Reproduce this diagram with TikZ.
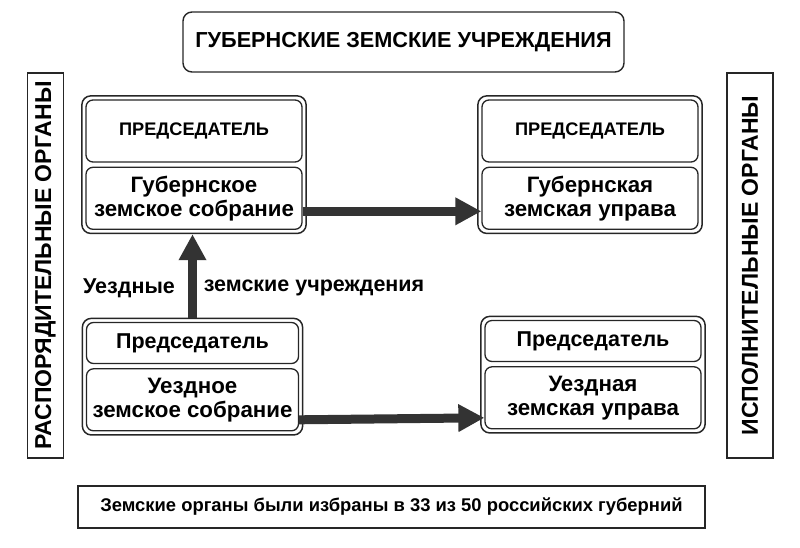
\documentclass[tikz,border=0pt]{standalone}
\usepackage{fontspec}
\setmainfont{Liberation Sans}
\usetikzlibrary{positioning,fit,arrows.meta}
\tikzstyle{inbox} = [draw=black!85, rounded corners=7pt, line width=1.3pt, minimum width=216pt, align=center, inner sep=0pt, font=\fontsize{22.3}{24}\bfseries\selectfont]
\tikzstyle{outbox} = [draw=black!85, rounded corners=9pt, line width=1.5pt, inner sep=3.5pt]
\tikzstyle{sidebox} = [draw=black!85, line width=1.4pt, rotate=90, minimum width=385pt, inner sep=0pt, font=\fontsize{23}{23}\bfseries\selectfont]
\tikzstyle{bigarrow} = [line width=9pt, draw=black!80, -{Triangle[length=26pt,width=26pt]}]
\tikzstyle{lbl} = [font=\fontsize{21.5}{21.5}\bfseries\selectfont]

\begin{document}
\begin{tikzpicture}[x=1pt, y=-1pt]
\useasboundingbox (0,0) rectangle (800,547);

% Define nodes
\node[draw=black!85, line width=1.4pt, rounded corners=9pt, minimum width=441pt, minimum height=60pt, font=\fontsize{21.7}{21.7}\bfseries\selectfont] (title) at (403.5,42) {ГУБЕРНСКИЕ ЗЕМСКИЕ УЧРЕЖДЕНИЯ};

\node[sidebox, minimum height=36pt] (rasp) at (45.5,265.5) {РАСПОРЯДИТЕЛЬНЫЕ ОРГАНЫ};
\node[sidebox, minimum height=46pt] (ispol) at (750,265.5) {ИСПОЛНИТЕЛЬНЫЕ ОРГАНЫ};

\node[inbox, minimum height=62pt, font=\fontsize{18.2}{18.2}\bfseries\selectfont] (gpred1) at (194,131) {ПРЕДСЕДАТЕЛЬ};
\node[inbox, minimum height=62pt, below=4pt of gpred1]  (gsob)  {Губернское\\земское собрание};
\node[outbox, fit=(gpred1)(gsob)]                          (gleft) {};

\node[inbox, minimum height=62pt, font=\fontsize{18.2}{18.2}\bfseries\selectfont] (gpred2) at (590,131) {ПРЕДСЕДАТЕЛЬ};
\node[inbox, minimum height=62pt, below=4pt of gpred2]  (gupr)  {Губернская\\земская управа};
\node[outbox, fit=(gpred2)(gupr)]                          (gright) {};

\node[inbox, minimum height=41pt, minimum width=212pt, font=\fontsize{21.5}{21.5}\bfseries\selectfont] (upred1) at (192.5,343) {Председатель};
\node[inbox, minimum height=62pt, minimum width=212pt, below=4pt of upred1] (usob) {Уездное\\земское собрание};
\node[outbox, fit=(upred1)(usob)]                          (uleft) {};

\node[inbox, minimum height=41pt, font=\fontsize{21.5}{21.5}\bfseries\selectfont] (upred2) at (593,341) {Председатель};
\node[inbox, minimum height=62pt, below=4pt of upred2]  (uupr)  {Уездная\\земская управа};
\node[outbox, fit=(upred2)(uupr)]                          (uright) {};

\node[lbl] (uezd)  at (129,288) {Уездные};
\node[lbl] (zemuch) at (314,288) {земские учреждения};

\node[draw=black!85, line width=1.4pt, minimum width=627pt, minimum height=42pt, font=\fontsize{18.4}{18.4}\bfseries\selectfont] (note) at (391.5,507) {Земские органы были избраны в 33 из 50 российских губерний};

% Edges
\draw[bigarrow] ([yshift=-13pt]gsob.east) -- ([yshift=-13pt]gupr.west);
\draw[bigarrow] ([yshift=-20pt]usob.east) -- ([yshift=-20pt]uupr.west);
\draw[bigarrow] (uleft.north) -- (uleft.north |- gleft.south);
\end{tikzpicture}
\end{document}
